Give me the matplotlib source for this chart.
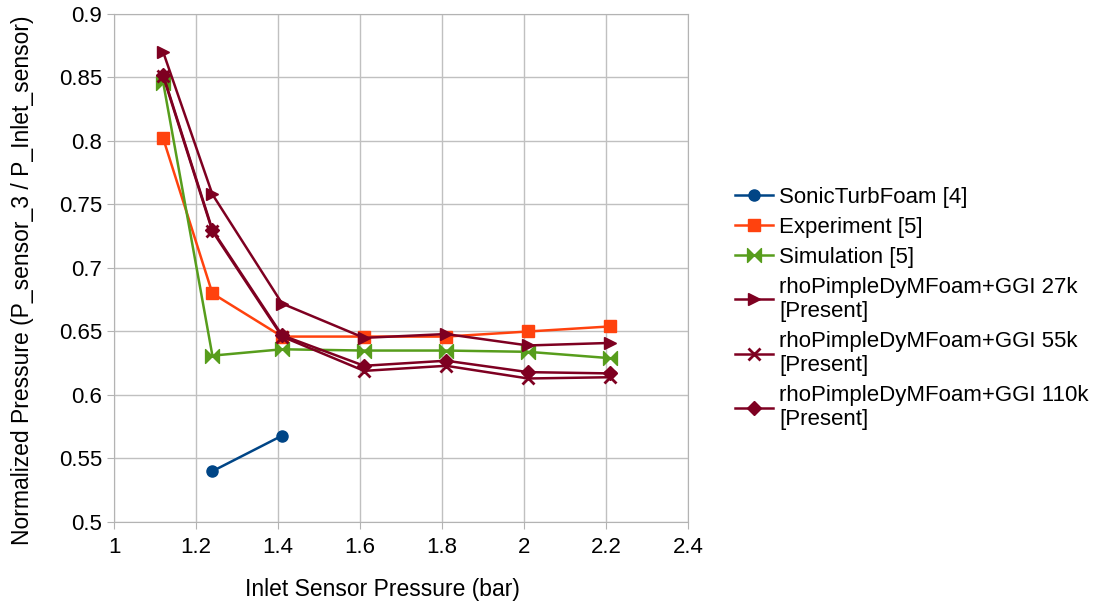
import matplotlib
matplotlib.use("Agg")
import matplotlib.pyplot as plt
from matplotlib.path import Path

plt.rcParams['font.family'] = ['Liberation Sans', 'DejaVu Sans']

x_all = [1.12, 1.24, 1.41, 1.61, 1.81, 2.01, 2.21]

x_sonic = [1.24, 1.41]
y_sonic = [0.540, 0.568]
y_exp = [0.802, 0.680, 0.646, 0.646, 0.646, 0.650, 0.654]
y_sim = [0.846, 0.631, 0.636, 0.635, 0.635, 0.634, 0.629]
y_27k = [0.870, 0.758, 0.672, 0.645, 0.648, 0.639, 0.641]
y_55k = [0.851, 0.729, 0.646, 0.619, 0.623, 0.613, 0.614]
y_110k = [0.852, 0.730, 0.647, 0.623, 0.627, 0.618, 0.617]

W, H = 1102, 603
fig = plt.figure(figsize=(W / 100, H / 100), dpi=100)
ax = fig.add_axes([114 / W, 1 - 522 / H, (688 - 114) / W, (522 - 14) / H])

# bowtie marker: two triangles meeting at the centre
bowtie = Path([(-1, -1), (0, 0), (-1, 1), (-1, -1),
               (1, -1), (0, 0), (1, 1), (1, -1)],
              [Path.MOVETO, Path.LINETO, Path.LINETO, Path.CLOSEPOLY,
               Path.MOVETO, Path.LINETO, Path.LINETO, Path.CLOSEPOLY])

dark = "#7e0021"
ax.plot(x_sonic, y_sonic, color="#004586", marker="o", ms=8, lw=1.8,
        label="SonicTurbFoam [4]")
ax.plot(x_all, y_exp, color="#ff420e", marker="s", ms=9, lw=1.8,
        label="Experiment [5]")
ax.plot(x_all, y_sim, color="#579d1c", marker=bowtie, ms=10, lw=1.8,
        label="Simulation [5]")
ax.plot(x_all, y_27k, color=dark, marker=">", ms=9, lw=1.8,
        label="rhoPimpleDyMFoam+GGI 27k\n[Present]")
ax.plot(x_all, y_55k, color=dark, marker="x", ms=9, mew=2, lw=1.8,
        label="rhoPimpleDyMFoam+GGI 55k\n[Present]")
ax.plot(x_all, y_110k, color=dark, marker="D", ms=7, lw=1.8,
        label="rhoPimpleDyMFoam+GGI 110k\n[Present]")

ax.set_xlim(1, 2.4)
ax.set_ylim(0.5, 0.9)
ax.set_xticks([1, 1.2, 1.4, 1.6, 1.8, 2, 2.2, 2.4])
ax.set_xticklabels(["1", "1.2", "1.4", "1.6", "1.8", "2", "2.2", "2.4"])
ax.set_yticks([0.5, 0.55, 0.6, 0.65, 0.7, 0.75, 0.8, 0.85, 0.9])
ax.set_yticklabels(["0.5", "0.55", "0.6", "0.65", "0.7", "0.75", "0.8", "0.85", "0.9"])
ax.grid(True, color="#c0c0c0", lw=1)
ax.set_axisbelow(True)
for s in ax.spines.values():
    s.set_color("#b3b3b3")
ax.tick_params(colors="#b3b3b3", labelcolor="black", labelsize=16, length=5)
ax.tick_params(axis="x", pad=6)
ax.set_xlabel("Inlet Sensor Pressure (bar)", fontsize=16.5)
ax.set_ylabel("Normalized Pressure (P_sensor_3 / P_Inlet_sensor)", fontsize=16.5)
ax.xaxis.set_label_coords(0.467, -56 / 508)
ax.yaxis.set_label_coords(-80 / 574, 0.476)

leg = ax.legend(loc="upper left", bbox_to_anchor=(735 / W, 1 - 187 / H),
                bbox_transform=fig.transFigure, borderpad=0, borderaxespad=0,
                frameon=False, fontsize=16, handlelength=1.7, labelspacing=0.4,
                handletextpad=0.3)

fig.savefig("out.png", dpi=100)
